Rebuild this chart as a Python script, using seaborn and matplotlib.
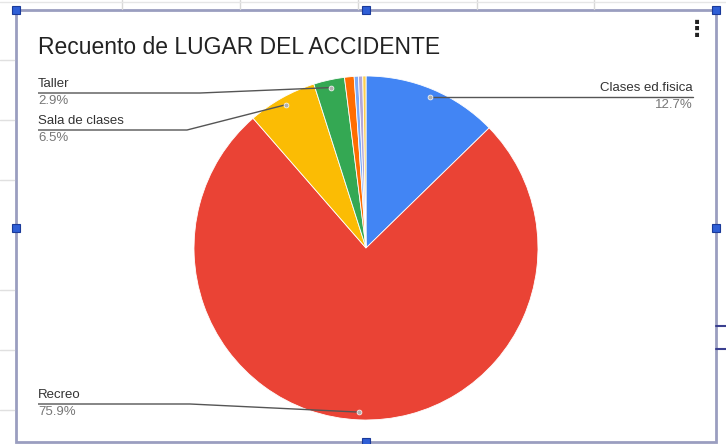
import numpy as np
import matplotlib
matplotlib.use("Agg")
import matplotlib.pyplot as plt
import seaborn as sns
from matplotlib.patches import Rectangle
from matplotlib.lines import Line2D

# ---- data ----
categories = ["Clases ed.fisica", "Recreo", "Sala de clases", "Taller", "Otro 1", "Otro 2", "Otro 3", "Otro 4"]
percentages = [12.7, 75.9, 6.5, 2.9, 0.9, 0.4, 0.4, 0.3]
labeled = ["Clases ed.fisica", "Recreo", "Sala de clases", "Taller"]
colors = ["#4285F4", "#EA4335", "#FBBC04", "#34A853", "#FF6D01", "#7BAAF7", "#B4A7D6", "#FCD04F"]

sns.set_theme(style="white")
plt.rcParams["font.family"] = ["Liberation Sans", "DejaVu Sans"]

W, H = 726, 444
fig = plt.figure(figsize=(W / 100, H / 100), dpi=100)
fig.patch.set_facecolor("white")

# background overlay (pixel coords, y down)
bg = fig.add_axes([0, 0, 1, 1], zorder=0)
bg.set_xlim(0, W); bg.set_ylim(H, 0); bg.axis("off")
# spreadsheet gridlines
for x in [122, 240, 358, 477, 594]:
    bg.add_line(Line2D([x, x], [0, 9], color="#d8d8d8", lw=1))
bg.add_line(Line2D([0, W], [2, 2], color="#e6e6e6", lw=1))
for y in [60, 120, 180, 290, 350, 410]:
    bg.add_line(Line2D([0, 14], [y, y], color="#e0e0e0", lw=1))
for y in [326, 349]:
    bg.add_line(Line2D([716, W], [y, y], color="#3a3f8f", lw=1.5))
# chart frame
bg.add_patch(Rectangle((16, 10), 700, 432, fill=False, edgecolor="#9a9ec0", lw=2))
for (hx, hy) in [(16, 10), (366, 10), (716, 10), (16, 228), (716, 228), (366, 442)]:
    bg.add_patch(Rectangle((hx - 4, hy - 4), 8, 8, facecolor="#2f5fd6", edgecolor="#1a3a9a", lw=0.8, zorder=5))

# ---- pie ----
cx, cy, R = 366, 248, 172
ax = fig.add_axes([(cx - R) / W, (H - cy - R) / H, 2 * R / W, 2 * R / H], zorder=1)
palette = sns.color_palette(colors)
ax.pie(percentages, colors=palette, startangle=90, counterclock=False, radius=1,
       wedgeprops=dict(edgecolor="white", linewidth=0.6))
ax.set_xlim(-1, 1); ax.set_ylim(-1, 1)
ax.set_aspect("equal")
ax.axis("off")

# ---- labels overlay ----
ov = fig.add_axes([0, 0, 1, 1], zorder=2)
ov.set_xlim(0, W); ov.set_ylim(H, 0); ov.axis("off")
ov.patch.set_alpha(0)

ov.text(38, 48, "Recuento de LUGAR DEL ACCIDENTE", fontsize=16.5, color="#222222", va="center", ha="left")
ov.text(697, 30, "\u22ee", fontsize=16, color="#222222", va="center", ha="center", fontweight="bold",
        family=["DejaVu Sans"])

cum = np.cumsum([0] + percentages[:-1])
dots = {}
for c, p, s in zip(categories, percentages, cum):
    ang = np.deg2rad(90 - 360 * (s + p / 2) / 100)
    dots[c] = (cx + 0.955 * R * np.cos(ang), cy - 0.955 * R * np.sin(ang))

label_layout = {
    # name: (text x, line y, knee x, ha)
    "Taller": (38, 93, 200, "left"),
    "Sala de clases": (38, 130, 187, "left"),
    "Recreo": (38, 404, 190, "left"),
    "Clases ed.fisica": (693, 97, None, "right"),
}
for c in labeled:
    tx, ly, kx, ha = label_layout[c]
    dx, dy = dots[c]
    p = percentages[categories.index(c)]
    if ha == "left":
        ov.plot([tx, kx, dx], [ly, ly, dy], color="#555555", lw=1, solid_capstyle="butt")
    else:
        ov.plot([tx, dx], [ly, ly], color="#555555", lw=1)
    ov.plot([dx], [dy], marker="o", ms=3.5, color="#b0b0b0", mec="white", mew=0.5)
    ov.text(tx, ly - 3, c, fontsize=9.5, color="#333333", ha=ha, va="bottom")
    ov.text(tx, ly + 2, f"{p:.1f}%", fontsize=9.5, color="#777777", ha=ha, va="top")

fig.savefig("out.png", dpi=100)
